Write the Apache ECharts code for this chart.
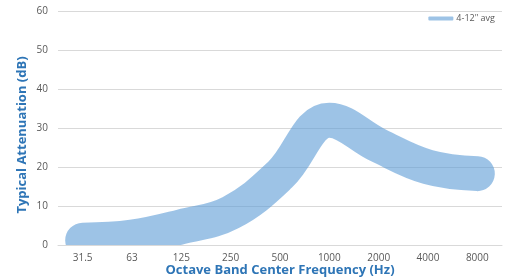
<!DOCTYPE html>
<html>
<head>
<meta charset="utf-8">
<script src="https://cdn.jsdelivr.net/npm/echarts@6/dist/echarts.min.js"></script>
<style>html,body{margin:0;padding:0;background:#fff;}#c{width:514px;height:279px;}</style>
</head>
<body>
<div id="c"></div>
<script>
var categories = ['31.5', '63', '125', '250', '500', '1000', '2000', '4000', '8000'];
var avgValues = [1.2, 2.0, 4.7, 8.3, 18.0, 32.0, 25.5, 20.0, 18.3];
var seriesName = '4-12" avg';
var yTicks = [0, 10, 20, 30, 40, 50, 60];

var chart = echarts.init(document.getElementById('c'), null, {renderer: 'canvas'});
var band = 'rgba(91,155,213,0.6)';
chart.setOption({
  animation: false,
  grid: {left: 58, right: 12, top: 11, bottom: 34, containLabel: false, outerBoundsMode: 'none'},
  legend: {
    right: 14, top: 9,
    icon: 'roundRect', itemWidth: 25, itemHeight: 4, itemGap: 4,
    textStyle: {fontFamily: 'Open Sans', fontSize: 9, color: '#595959', padding: [0,0,0,-2]},
    data: [seriesName]
  },
  xAxis: {
    type: 'category', data: categories, boundaryGap: true, z: 10,
    axisLine: {show: true, lineStyle: {color: '#d9d9d9', width: 1}},
    axisTick: {show: false},
    axisLabel: {fontFamily: 'Open Sans', fontSize: 10, color: '#595959', margin: 8},
    name: 'Octave Band Center Frequency (Hz)', nameLocation: 'middle', nameGap: 17, nameMoveOverlap: false,
    nameTextStyle: {fontFamily: 'Open Sans', fontWeight: 'bold', fontSize: 13, color: '#2e75b6', lineHeight: 16}
  },
  yAxis: {
    type: 'value', min: yTicks[0], max: yTicks[yTicks.length-1], interval: 10,
    axisLine: {show: false}, axisTick: {show: false},
    axisLabel: {fontFamily: 'Open Sans', fontSize: 10, color: '#595959', margin: 10},
    splitLine: {lineStyle: {color: '#d9d9d9', width: 1}},
    name: 'Typical Attenuation (dB)', nameLocation: 'middle', nameGap: 29, nameMoveOverlap: false,
    nameTextStyle: {fontFamily: 'Open Sans', fontWeight: 'bold', fontSize: 13, color: '#2e75b6', padding: [0, 14, 0, 0]}
  },
  graphic: [{
    type: 'rect', z: 5, silent: true,
    shape: {x: 58, y: 245.5, width: 446, height: 20},
    style: {fill: '#ffffff'}
  }],
  series: [{
    name: seriesName, type: 'line', data: avgValues, smooth: 0.4,
    showSymbol: false, symbol: 'none', z: 2,
    color: band,
    lineStyle: {color: band, width: 35, cap: 'round', join: 'round'},
    itemStyle: {color: '#9dc3e6'}
  }]
});
</script>
</body>
</html>
